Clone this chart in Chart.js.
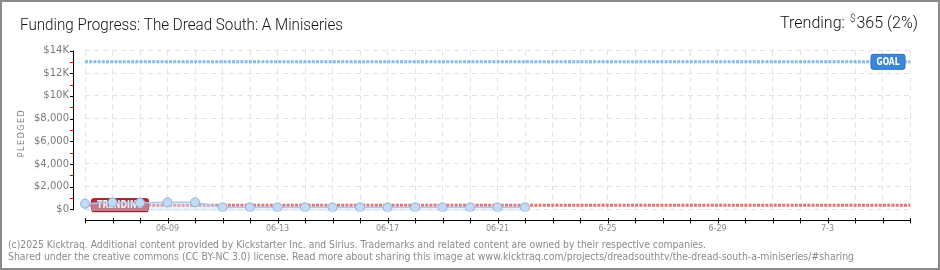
<!DOCTYPE html>
<html>
<head>
<meta charset="utf-8">
<script src="https://cdn.jsdelivr.net/npm/chart.js@4"></script>
<style>
  html, body { margin: 0; padding: 0; background: #fff; }
  #wrap { width: 940px; height: 270px; position: relative; }
  canvas { display: block; }
</style>
</head>
<body>
<div id="wrap"><canvas id="chart" width="940" height="270"></canvas></div>
<script>
// Campaign days shown on the x axis
const days = ['06-06','06-07','06-08','06-09','06-10','06-11','06-12','06-13','06-14','06-15',
  '06-16','06-17','06-18','06-19','06-20','06-21','06-22','06-23','06-24','06-25',
  '06-26','06-27','06-28','06-29','06-30','07-01','07-02','07-03','07-04','07-05','07-06'];

// Labels printed under the x axis (blank = tick only)
const dayTickLabels = ['','','','06-09','','','','06-13','','','','06-17','','','','06-21',
  '','','','6-25','','','','6-29','','','','7-3','','',''];

// Amount pledged per day so far (USD)
const pledged = [494, 618, 582, 618, 618, 176, 176, 176, 176, 176, 176, 176, 176, 176, 176, 176, 176];

// Reference lines
const trendingValue = 365;
const trendingPercent = 2;
const goalValue = 13000;

// Y axis
const yMax = 14000;
const yMinorStep = 1000;
const yMajorStep = 2000;
const yTickLabels = ['$0', '$2,000', '$4,000', '$6,000', '$8,000', '$10K', '$12K', '$14K'];

const titleText = 'Funding Progress: The Dread South: A Miniseries';
const footerLines = [
  '(c)2025 Kicktraq. Additional content provided by Kickstarter Inc. and Sirius. Trademarks and related content are owned by their respective companies.',
  'Shared under the creative commons (CC BY-NC 3.0) license. Read more about sharing this image at www.kicktraq.com/projects/dreadsouthtv/the-dread-south-a-miniseries/#sharing'
];

function drawTag(ctx, x, yc, w, h, fill, edge, text, font, textW) {
  ctx.save();
  ctx.fillStyle = fill;
  ctx.beginPath();
  ctx.roundRect(x, yc - h / 2, w, h, 2);
  ctx.fill();
  ctx.strokeStyle = edge;
  ctx.lineWidth = 1;
  ctx.stroke();
  ctx.fillStyle = '#fff';
  ctx.font = font;
  ctx.textAlign = 'center';
  ctx.textBaseline = 'middle';
  ctx.fillText(text, x + w / 2, yc + 0.5, textW);
  ctx.restore();
}

const decor = {
  id: 'decor',
  beforeDraw(chart) {
    const ctx = chart.ctx;
    ctx.save();
    ctx.fillStyle = '#fff';
    ctx.fillRect(0, 0, chart.width, chart.height);
    ctx.restore();
  },
  afterDatasetDraw(chart, args) {
    const ctx = chart.ctx;
    const area = chart.chartArea;
    const y = chart.scales.y;
    if (args.index === 1) {
      drawTag(ctx, area.left + 6.5, y.getPixelForValue(trendingValue), 57, 13,
        '#bb2a33', '#8e0b12', 'TRENDING', 'bold 10px "DejaVu Sans Condensed"', 46);
    }
    if (args.index === 2) {
      drawTag(ctx, area.right - 39, y.getPixelForValue(goalValue), 34, 15,
        '#3a87d8', '#2f74c0', 'GOAL', 'bold 10px "DejaVu Sans Condensed"', 23);
    }
  },
  afterDraw(chart) {
    const ctx = chart.ctx;
    const area = chart.chartArea;
    const xs = chart.scales.x;
    const ys = chart.scales.y;
    ctx.save();

    // y axis line with major (black) and minor (red) ticks
    const axisX = area.left - 12;
    const yTop = ys.getPixelForValue(yMax);
    const yZero = ys.getPixelForValue(0);
    ctx.lineWidth = 1;
    ctx.strokeStyle = '#000';
    ctx.beginPath();
    ctx.moveTo(Math.round(axisX) + 0.5, yTop);
    ctx.lineTo(Math.round(axisX) + 0.5, yZero + 1);
    ctx.stroke();
    for (let v = 0; v <= yMax; v += yMinorStep) {
      const py = Math.round(ys.getPixelForValue(v)) + 0.5;
      ctx.strokeStyle = v % yMajorStep === 0 ? '#000' : '#e00000';
      ctx.beginPath();
      ctx.moveTo(Math.round(axisX) - 3, py);
      ctx.lineTo(Math.round(axisX) + 1, py);
      ctx.stroke();
    }

    // x axis line with a tick per day
    const axisY = Math.round(area.bottom + 8.4) + 0.5;
    const x0 = xs.getPixelForValue(0);
    const x1 = xs.getPixelForValue(days.length - 1);
    ctx.strokeStyle = '#000';
    ctx.beginPath();
    ctx.moveTo(x0, axisY);
    ctx.lineTo(x1 + 1, axisY);
    ctx.stroke();
    for (let i = 0; i < days.length; i++) {
      const px = Math.round(xs.getPixelForValue(i)) + 0.5;
      ctx.beginPath();
      ctx.moveTo(px, axisY - 2.5);
      ctx.lineTo(px, axisY + 3);
      ctx.stroke();
    }

    // y axis title
    ctx.save();
    ctx.translate(22, 133);
    ctx.rotate(-Math.PI / 2);
    ctx.fillStyle = '#808080';
    ctx.font = '8px "DejaVu Sans"';
    ctx.letterSpacing = '1.5px';
    ctx.textAlign = 'center';
    ctx.textBaseline = 'middle';
    ctx.fillText('PLEDGED', 0, 0);
    ctx.restore();

    // heading
    ctx.fillStyle = '#111';
    ctx.font = '300 16px Roboto';
    ctx.textAlign = 'left';
    ctx.textBaseline = 'alphabetic';
    ctx.fillText(titleText, 20, 30, 323);

    // trending summary, right aligned
    ctx.textAlign = 'right';
    const tail = trendingValue + ' (' + trendingPercent + '%)';
    ctx.fillText(tail, 918, 27.5);
    const tailW = ctx.measureText(tail).width;
    ctx.font = '300 10px Roboto';
    ctx.fillText('$', 918 - tailW - 1, 22);
    const dollarW = ctx.measureText('$').width;
    ctx.font = '300 16px Roboto';
    ctx.fillText('Trending:', 918 - tailW - dollarW - 6, 27.5);

    // footer
    ctx.textAlign = 'left';
    ctx.fillStyle = '#8a8a8a';
    ctx.font = '10px "DejaVu Sans"';
    ctx.fillText(footerLines[0], 8, 247.5, 698);
    ctx.fillText(footerLines[1], 8, 259.5, 846);

    // frame
    ctx.strokeStyle = '#8a8a8a';
    ctx.lineWidth = 2;
    ctx.strokeRect(1, 1, chart.width - 2, chart.height - 2);
    ctx.restore();
  }
};

new Chart(document.getElementById('chart'), {
  type: 'line',
  data: {
    labels: days,
    datasets: [
      {
        label: 'Pledged',
        data: pledged,
        order: 0,
        borderColor: '#a9c9ee',
        borderWidth: 1.5,
        backgroundColor: 'rgba(205,225,248,0.45)',
        fill: 'start',
        tension: 0,
        pointRadius: 4.5,
        pointBackgroundColor: '#c4daf4',
        pointBorderColor: '#8fb3de',
        pointBorderWidth: 1
      },
      {
        label: 'Trending',
        data: [{ x: days[0], y: trendingValue }, { x: days[days.length - 1], y: trendingValue }],
        order: 1,
        borderColor: '#e07474',
        borderWidth: 3,
        borderDash: [3, 1.2],
        pointRadius: 0,
        fill: false
      },
      {
        label: 'Goal',
        data: [{ x: days[0], y: goalValue }, { x: days[days.length - 1], y: goalValue }],
        order: 2,
        borderColor: '#88b8ec',
        borderWidth: 3,
        borderDash: [3, 1.2],
        pointRadius: 0,
        fill: false
      }
    ]
  },
  options: {
    responsive: false,
    animation: false,
    events: [],
    layout: { padding: { top: 50.5, right: 30, bottom: 0, left: 0 } },
    plugins: { legend: { display: false }, tooltip: { enabled: false }, title: { display: false } },
    scales: {
      x: {
        type: 'category',
        offset: false,
        afterFit(scale) { scale.height = 58.4; },
        grid: { color: '#e2e2e2', lineWidth: 1, drawTicks: false },
        border: { display: false, dash: [5, 4] },
        ticks: {
          autoSkip: false,
          maxRotation: 0,
          padding: 13,
          color: '#8a8a8a',
          font: { family: 'DejaVu Sans', size: 8 },
          callback: (v, i) => dayTickLabels[i]
        }
      },
      y: {
        min: -200,
        max: yMax,
        afterFit(scale) { scale.width = 85; },
        afterBuildTicks(scale) {
          const t = [];
          for (let v = 0; v <= yMax; v += yMinorStep) t.push({ value: v });
          scale.ticks = t;
        },
        grid: {
          drawTicks: false,
          lineWidth: 1,
          color: (c) => (c.tick && c.tick.value % yMajorStep === 0) ? '#e2e2e2' : 'rgba(0,0,0,0)'
        },
        border: { display: false, dash: [5, 4] },
        ticks: {
          padding: 16,
          color: '#7a7a7a',
          font: { family: 'DejaVu Sans', size: 10 },
          callback: (v) => v % yMajorStep === 0 ? yTickLabels[v / yMajorStep] : ''
        }
      }
    }
  },
  plugins: [decor]
});
</script>
</body>
</html>
